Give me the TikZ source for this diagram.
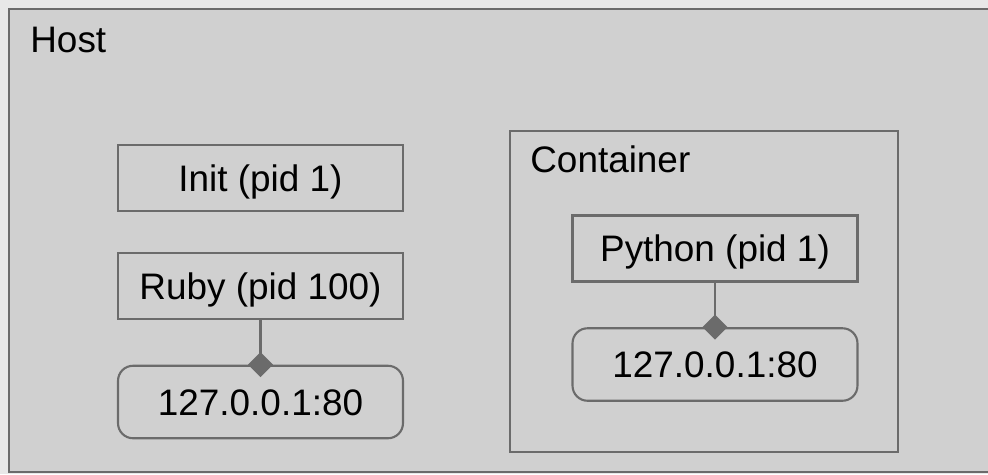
\documentclass[tikz,border=0pt]{standalone}
\usepackage{fontspec}
\setmainfont{Liberation Sans}
\usetikzlibrary{arrows.meta}

\definecolor{hostgray}{HTML}{D0D0D0}
\definecolor{pagegray}{HTML}{E8E8E8}
\definecolor{edgegray}{HTML}{6B6B6B}

\tikzset{
	proc/.style={draw=edgegray, line width=1.2pt, minimum width=5.7cm, minimum height=1.32cm, inner sep=0pt, text height=0.53cm, text depth=0pt, font=\fontsize{21}{25}\selectfont},
	addr/.style={proc, rounded corners=0.3cm, minimum height=1.45cm},
	label/.style={anchor=north west, inner sep=0pt, font=\fontsize{21}{25}\selectfont},
	link/.style={draw=edgegray, line width=1.6pt, -{Diamond[length=0.5cm,width=0.5cm]}, shorten >=-0.25cm}
}

\begin{document}
\begin{tikzpicture}[x=0.02cm,y=-0.02cm]
		\useasboundingbox (0,0) rectangle (988,474);
		\clip (0,0) rectangle (988,474);
		\fill[pagegray] (0,0) rectangle (988,474);
		% host and container frames
		\draw[edgegray, line width=1.3pt, fill=hostgray] (9,9) rectangle (1000,472);
		\draw[edgegray, line width=1.3pt] (510,131) rectangle (898,452);
		\node[label] (host) at (30,27) {Host};
		\node[label] (container) at (530,145) {Container};
		
		% processes on the host
		\node[proc] (init) at (260.5,178) {Init (pid 1)};
		\node[proc] (ruby) at (260.5,286) {Ruby (pid 100)};
		\node[addr] (ruby port) at (260.5,402) {127.0.0.1:80};
		
		% process inside the container
		\node[proc] (python) at (715,248.5) {Python (pid 1)};
		\node[addr] (python port) at (715,364.5) {127.0.0.1:80};
		
		\draw[link] (ruby) -- (ruby port);
		\draw[link] (python) -- (python port);
	\end{tikzpicture}
\end{document}
